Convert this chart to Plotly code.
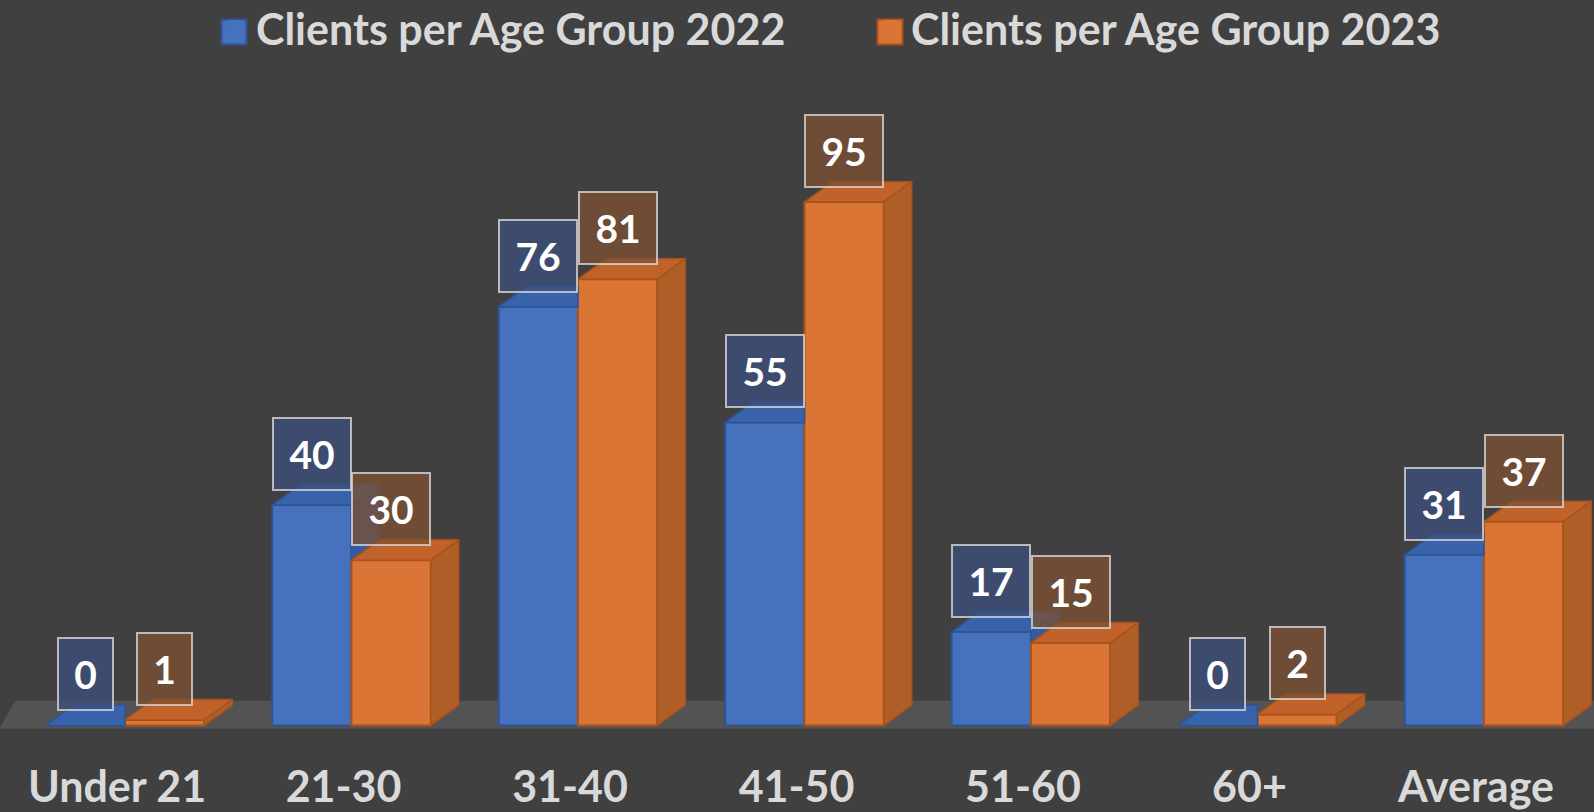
import plotly.graph_objects as go

# ---------------- data ----------------
categories = ["Under 21", "21-30", "31-40", "41-50", "51-60", "60+", "Average"]
clients_2022 = [0, 40, 76, 55, 17, 0, 31]
clients_2023 = [1, 30, 81, 95, 15, 2, 37]
series_names = ["Clients per Age Group 2022", "Clients per Age Group 2023"]

# ---------------- style ----------------
BG = "#404040"
TXT = "#D9D9D9"
FONT = "Lato"
BLUE, BLUE_EDGE, BLUE_TOP, BLUE_SIDE = "#4571BD", "#2F5496", "#3862AA", "#355C9F"
ORANGE, ORANGE_EDGE, ORANGE_TOP, ORANGE_SIDE = "#DA7535", "#A8531A", "#C0622A", "#B05E28"
W = 0.35          # bar width (category units)
OFF_B = -0.315    # offset of 2022 bar
OFF_O = 0.035     # offset of 2023 bar
DX = 0.1236       # 3D depth, x (category units)
DY = 3.7          # 3D depth, y (value units)

FIG_W, FIG_H = 1594, 812
M_T, M_B = 80, 70

xs = list(range(len(categories)))

fig = go.Figure()

fig.add_trace(go.Bar(
    x=xs, y=clients_2022, width=W, offset=OFF_B, name=series_names[0],
    marker=dict(color=BLUE, line=dict(color=BLUE_EDGE, width=2)),
    hoverinfo="skip", showlegend=False))
fig.add_trace(go.Bar(
    x=xs, y=clients_2023, width=W, offset=OFF_O, name=series_names[1],
    marker=dict(color=ORANGE, line=dict(color=ORANGE_EDGE, width=2)),
    hoverinfo="skip", showlegend=False))

# legend entries
for name, col in [(series_names[0], BLUE), (series_names[1], ORANGE)]:
    fig.add_trace(go.Scatter(
        x=[None], y=[None], mode="markers", name=name,
        marker=dict(symbol="square", size=30, color=col, line=dict(color=col, width=0))))

# enlarged legend keys (square swatches behind the native symbols)
plot_h = FIG_H - M_T - M_B
key_cy = (FIG_H - M_B - 32) / plot_h
key_half_y = 12.5 / plot_h
for cx_px, col, edge in [(234, BLUE, BLUE_EDGE), (890, ORANGE, ORANGE_EDGE)]:
    fig.add_shape(type="rect", xref="paper", yref="paper",
                  x0=(cx_px - 12.5) / FIG_W, x1=(cx_px + 12.5) / FIG_W,
                  y0=key_cy - key_half_y, y1=key_cy + key_half_y,
                  fillcolor=col, line=dict(color=edge, width=2), layer="above")


def face(px, py, fill, edge):
    fig.add_trace(go.Scatter(
        x=px + [px[0]], y=py + [py[0]], mode="lines", fill="toself",
        fillcolor=fill, line=dict(color=edge, width=1.5),
        hoverinfo="skip", showlegend=False))


# floor
fig.add_shape(type="path", xref="x", yref="y", layer="below",
              path=f"M -0.52,-0.6 L 6.6,-0.6 L 6.7,{DY+0.8} L -0.45,{DY+0.8} Z",
              fillcolor="#535353", line=dict(width=0))

# 2022 top faces and visible side parts
for i, (b, o) in enumerate(zip(clients_2022, clients_2023)):
    xl = i + OFF_B
    xr = xl + W
    if b >= o:
        face([xl, xr, xr + DX, xl + DX], [b, b, b + DY, b + DY], BLUE_TOP, BLUE_EDGE)
        if b > o:
            face([xr, xr, xr + DX, xr + DX], [o, b, b + DY, o + DY], BLUE_SIDE, BLUE_EDGE)
    else:
        face([xl, xr, xr, xl + DX], [b, b, b + DY, b + DY], BLUE_TOP, BLUE_EDGE)

# 2023 top and side faces
for i, o in enumerate(clients_2023):
    xl = i + OFF_O
    xr = xl + W
    face([xl, xr, xr + DX, xl + DX], [o, o, o + DY, o + DY], ORANGE_TOP, ORANGE_EDGE)
    face([xr, xr, xr + DX, xr + DX], [0, o, o + DY, DY], ORANGE_SIDE, ORANGE_EDGE)

# data labels
for vals, off, bg in [(clients_2022, OFF_B, "rgba(60,80,125,0.75)"),
                      (clients_2023, OFF_O, "rgba(125,80,50,0.75)")]:
    for i, v in enumerate(vals):
        t = str(v)
        fig.add_annotation(
            x=i + off + W / 2, y=v, xref="x", yref="y", text=f"<b>{t}</b>",
            showarrow=False, yanchor="bottom", yshift=14,
            font=dict(family=FONT, size=39, color="white"),
            bgcolor=bg, bordercolor="rgba(215,215,215,0.8)", borderwidth=2,
            borderpad=0, width=30 + 23 * len(t), height=70,
            align="center", valign="middle")

fig.update_layout(
    width=FIG_W, height=FIG_H,
    paper_bgcolor=BG, plot_bgcolor=BG,
    margin=dict(l=0, r=0, t=M_T, b=M_B, autoexpand=False),
    barmode="overlay",
    font=dict(family=FONT, color=TXT),
    xaxis=dict(range=[-0.517, 6.521], tickvals=xs, ticktext=categories,
               showgrid=False, zeroline=False, showline=False, ticks="",
               tickfont=dict(family=FONT, size=43, color=TXT, weight="bold"),
               ticklabelstandoff=16, automargin=False),
    yaxis=dict(range=[-3, 117.15], visible=False),
    legend=dict(orientation="h", x=0.1355, xanchor="left", y=1.0785,
                yanchor="middle", entrywidth=610,
                font=dict(family=FONT, size=43, color=TXT, weight="bold"),
                bgcolor="rgba(0,0,0,0)"),
    showlegend=True,
)

fig.write_html(
    "out.html",
    config={"displayModeBar": False},
    post_script="document.body.style.margin='0';document.body.style.overflow='hidden';")
